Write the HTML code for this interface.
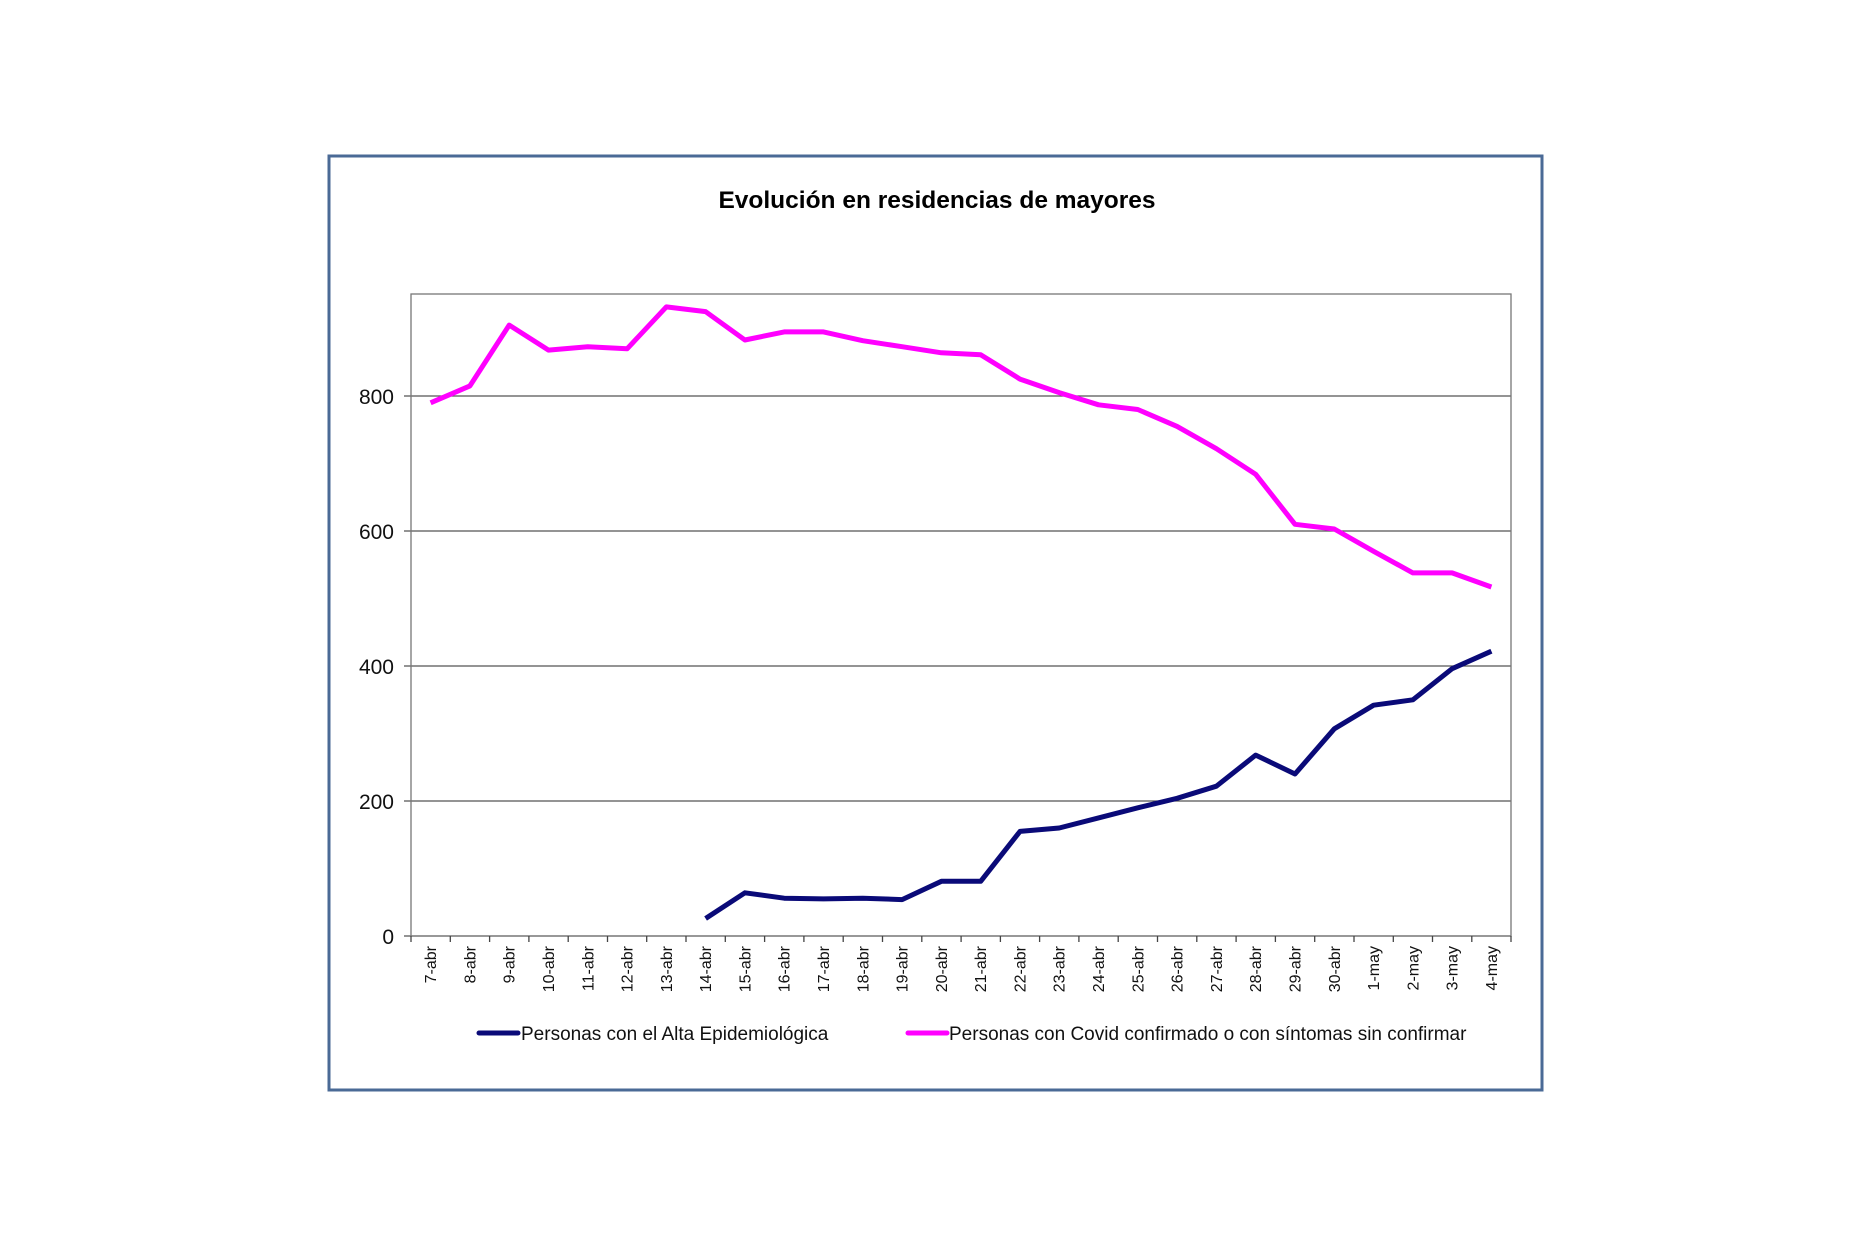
<!DOCTYPE html>
<html><head><meta charset="utf-8"><style>html,body{margin:0;padding:0;background:#fff}svg{display:block}</style></head>
<body>
<svg width="1870" height="1247" viewBox="0 0 1870 1247" xmlns="http://www.w3.org/2000/svg" font-family="Liberation Sans, Arial, sans-serif">
<rect x="0" y="0" width="1870" height="1247" fill="#fff"/>
<rect x="329" y="156" width="1213" height="934" fill="#fff" stroke="#4a6a96" stroke-width="3"/>
<text x="937" y="208" font-size="24.5" font-weight="bold" text-anchor="middle" fill="#000">Evolución en residencias de mayores</text>
<g stroke="#555" stroke-width="1.3">
<line x1="404" y1="396" x2="1511" y2="396"/>
<line x1="404" y1="531" x2="1511" y2="531"/>
<line x1="404" y1="666" x2="1511" y2="666"/>
<line x1="404" y1="801" x2="1511" y2="801"/>
<line x1="404" y1="936" x2="1511" y2="936"/>
<rect x="411" y="294" width="1100" height="642" fill="none" stroke="#777"/>
</g>
<g stroke="#444" stroke-width="1.3">
<line x1="411" y1="936" x2="411" y2="942"/><line x1="450.3" y1="936" x2="450.3" y2="942"/><line x1="489.6" y1="936" x2="489.6" y2="942"/><line x1="528.9" y1="936" x2="528.9" y2="942"/><line x1="568.2" y1="936" x2="568.2" y2="942"/><line x1="607.5" y1="936" x2="607.5" y2="942"/><line x1="646.7" y1="936" x2="646.7" y2="942"/><line x1="686.0" y1="936" x2="686.0" y2="942"/><line x1="725.3" y1="936" x2="725.3" y2="942"/><line x1="764.6" y1="936" x2="764.6" y2="942"/><line x1="803.9" y1="936" x2="803.9" y2="942"/><line x1="843.2" y1="936" x2="843.2" y2="942"/><line x1="882.5" y1="936" x2="882.5" y2="942"/><line x1="921.8" y1="936" x2="921.8" y2="942"/><line x1="961.1" y1="936" x2="961.1" y2="942"/><line x1="1000.4" y1="936" x2="1000.4" y2="942"/><line x1="1039.6" y1="936" x2="1039.6" y2="942"/><line x1="1078.9" y1="936" x2="1078.9" y2="942"/><line x1="1118.2" y1="936" x2="1118.2" y2="942"/><line x1="1157.5" y1="936" x2="1157.5" y2="942"/><line x1="1196.8" y1="936" x2="1196.8" y2="942"/><line x1="1236.1" y1="936" x2="1236.1" y2="942"/><line x1="1275.4" y1="936" x2="1275.4" y2="942"/><line x1="1314.7" y1="936" x2="1314.7" y2="942"/><line x1="1354.0" y1="936" x2="1354.0" y2="942"/><line x1="1393.3" y1="936" x2="1393.3" y2="942"/><line x1="1432.5" y1="936" x2="1432.5" y2="942"/><line x1="1471.8" y1="936" x2="1471.8" y2="942"/><line x1="1511" y1="936" x2="1511" y2="942"/>
</g>
<g font-size="21" fill="#111" text-anchor="end">
<text x="394" y="404">800</text><text x="394" y="539">600</text><text x="394" y="674">400</text><text x="394" y="809">200</text><text x="394" y="944">0</text>
</g>
<g font-size="16" fill="#111" text-anchor="end">
<text transform="translate(436.1,946) rotate(-90)">7-abr</text>
<text transform="translate(475.4,946) rotate(-90)">8-abr</text>
<text transform="translate(514.7,946) rotate(-90)">9-abr</text>
<text transform="translate(554.0,946) rotate(-90)">10-abr</text>
<text transform="translate(593.3,946) rotate(-90)">11-abr</text>
<text transform="translate(632.6,946) rotate(-90)">12-abr</text>
<text transform="translate(671.8,946) rotate(-90)">13-abr</text>
<text transform="translate(711.1,946) rotate(-90)">14-abr</text>
<text transform="translate(750.4,946) rotate(-90)">15-abr</text>
<text transform="translate(789.7,946) rotate(-90)">16-abr</text>
<text transform="translate(829.0,946) rotate(-90)">17-abr</text>
<text transform="translate(868.3,946) rotate(-90)">18-abr</text>
<text transform="translate(907.6,946) rotate(-90)">19-abr</text>
<text transform="translate(946.9,946) rotate(-90)">20-abr</text>
<text transform="translate(986.2,946) rotate(-90)">21-abr</text>
<text transform="translate(1025.5,946) rotate(-90)">22-abr</text>
<text transform="translate(1064.7,946) rotate(-90)">23-abr</text>
<text transform="translate(1104.0,946) rotate(-90)">24-abr</text>
<text transform="translate(1143.3,946) rotate(-90)">25-abr</text>
<text transform="translate(1182.6,946) rotate(-90)">26-abr</text>
<text transform="translate(1221.9,946) rotate(-90)">27-abr</text>
<text transform="translate(1261.2,946) rotate(-90)">28-abr</text>
<text transform="translate(1300.5,946) rotate(-90)">29-abr</text>
<text transform="translate(1339.8,946) rotate(-90)">30-abr</text>
<text transform="translate(1379.1,946) rotate(-90)">1-may</text>
<text transform="translate(1418.4,946) rotate(-90)">2-may</text>
<text transform="translate(1457.6,946) rotate(-90)">3-may</text>
<text transform="translate(1496.9,946) rotate(-90)">4-may</text>
</g>
<polyline fill="none" stroke="#ff00ff" stroke-width="5" stroke-linejoin="round" points="430.6,402.8 469.9,385.9 509.2,325.1 548.5,350.1 587.8,346.7 627.1,348.8 666.3,306.9 705.6,311.6 744.9,340.0 784.2,331.9 823.5,331.9 862.8,340.7 902.1,346.7 941.4,352.8 980.7,354.8 1020.0,379.1 1059.2,392.6 1098.5,404.8 1137.8,409.5 1177.1,426.4 1216.4,448.7 1255.7,474.3 1295.0,524.3 1334.3,529.0 1373.6,551.3 1412.9,572.9 1452.1,572.9 1491.4,587.0"/>
<polyline fill="none" stroke="#0a0a78" stroke-width="5" stroke-linejoin="round" points="705.6,918.5 744.9,892.8 784.2,898.2 823.5,898.9 862.8,898.2 902.1,899.6 941.4,881.3 980.7,881.3 1020.0,831.4 1059.2,828.0 1098.5,817.9 1137.8,807.8 1177.1,798.3 1216.4,786.2 1255.7,755.1 1295.0,774.0 1334.3,728.8 1373.6,705.2 1412.9,699.8 1452.1,668.7 1491.4,651.2"/>
<line x1="479" y1="1033" x2="518" y2="1033" stroke="#0a0a78" stroke-width="5" stroke-linecap="round"/>
<text x="521" y="1040" font-size="19" fill="#111">Personas con el Alta Epidemiológica</text>
<line x1="908" y1="1033" x2="947" y2="1033" stroke="#ff00ff" stroke-width="5" stroke-linecap="round"/>
<text x="949" y="1040" font-size="19" fill="#111">Personas con Covid confirmado o con síntomas sin confirmar</text>
</svg>
</body></html>
